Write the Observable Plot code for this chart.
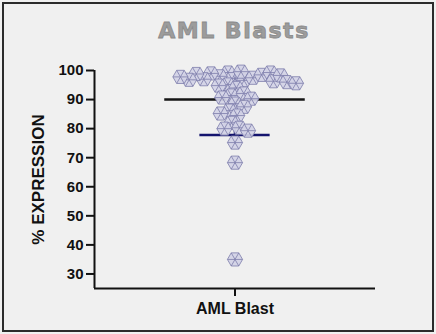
<!DOCTYPE html>
<html><head><meta charset="utf-8">
<script src="https://cdn.jsdelivr.net/npm/d3@7"></script>
<script src="https://cdn.jsdelivr.net/npm/@observablehq/plot@0.6"></script>
<style>
html,body{margin:0;padding:0;background:#f0f0f0;}
#wrap{position:relative;width:436px;height:334px;overflow:hidden;background:#f0f0f0;font-family:"Liberation Sans",Arial,sans-serif;}
#border{position:absolute;left:2px;top:2px;width:428px;height:326px;border:2px solid #2b2b2b;}
#title{position:absolute;left:114px;width:240px;top:20px;text-align:center;font-family:"DejaVu Sans",sans-serif;font-weight:bold;font-size:22px;line-height:22px;letter-spacing:1.5px;color:#9c9c9c;-webkit-text-stroke:0.8px #8a8a8a;}
#chart{position:absolute;left:0;top:0;}
</style></head>
<body>
<div id="wrap"><div id="border"></div><div id="title">AML Blasts</div><div id="chart"></div></div>
<script>
const category = ["AML Blast"];
const values = [97.2, 99.3, 96.6, 99.6, 98.0, 97.5, 99.0, 95.2, 98.5, 97.0, 99.3, 96.3, 98.8, 96.8, 94.8, 98.3, 97.8, 96.0, 95.6, 94.0,
  91.4, 92.1, 90.7, 88.6, 90.3, 86.2, 87.5, 85.2, 84.5, 82.0, 80.3, 80.0, 79.3, 75.2, 68.3, 35.0];
const yTicks = [30, 40, 50, 60, 70, 80, 90, 100];
const yLabel = "% EXPRESSION";

const mean = d3.mean(values);
const sd = d3.deviation(values);

const hexSymbol = {
  draw(ctx, size) {
    const R = Math.sqrt(size / Math.PI) * 1.85;
    const pts = d3.range(6).map(i => [R * Math.cos(i * Math.PI / 3), R * Math.sin(i * Math.PI / 3)]);
    ctx.moveTo(pts[0][0], pts[0][1]);
    for (let i = 1; i < 6; i++) ctx.lineTo(pts[i][0], pts[i][1]);
    ctx.closePath();
    for (const p of pts) { ctx.moveTo(0, 0); ctx.lineTo(p[0], p[1]); }
  }
};

const chart = Plot.plot({
  width: 436, height: 334,
  marginTop: 70, marginBottom: 46, marginLeft: 94, marginRight: 61,
  style: {background: "transparent", fontFamily: "'Liberation Sans', Arial, sans-serif", color: "#111"},
  x: {domain: [0, 2]},
  y: {domain: [25, 100]},
  marks: [
    Plot.ruleY([mean], {x1: 0.5, x2: 1.5, stroke: "#151515", strokeWidth: 2.5}),
    Plot.ruleX([1], {y1: mean - sd, y2: Math.min(mean + sd, 100), stroke: "#14146e", strokeWidth: 2.5}),
    Plot.ruleY([mean - sd], {x1: 0.75, x2: 1.25, stroke: "#14146e", strokeWidth: 2.5}),
    Plot.dot(values, Plot.dodgeX("middle", {y: d => d, r: 4.1, padding: 0.3, symbol: hexSymbol, fill: "#d2d2e6", fillOpacity: 0.92, stroke: "#7c7cab", strokeWidth: 0.8})),
    Plot.ruleX([0], {stroke: "#111", strokeWidth: 2}),
    Plot.ruleY([25], {stroke: "#111", strokeWidth: 2}),
    Plot.axisY({ticks: yTicks, tickSize: 8, tickPadding: 3, fontSize: 15, fontWeight: "bold", stroke: "#111", strokeWidth: 2, fill: "#111", label: null}),
    Plot.axisX({ticks: [1], tickFormat: d => category[d - 1], tickSize: 8, tickPadding: 6, fontSize: 16, fontWeight: "bold", stroke: "#111", strokeWidth: 2, fill: "#111", label: null}),
    Plot.text([yLabel], {frameAnchor: "left", dx: -56, rotate: -90, textAnchor: "middle", fontSize: 17, fontWeight: "bold", fill: "#111"})
  ]
});
document.getElementById("chart").appendChild(chart);
</script>
</body></html>
